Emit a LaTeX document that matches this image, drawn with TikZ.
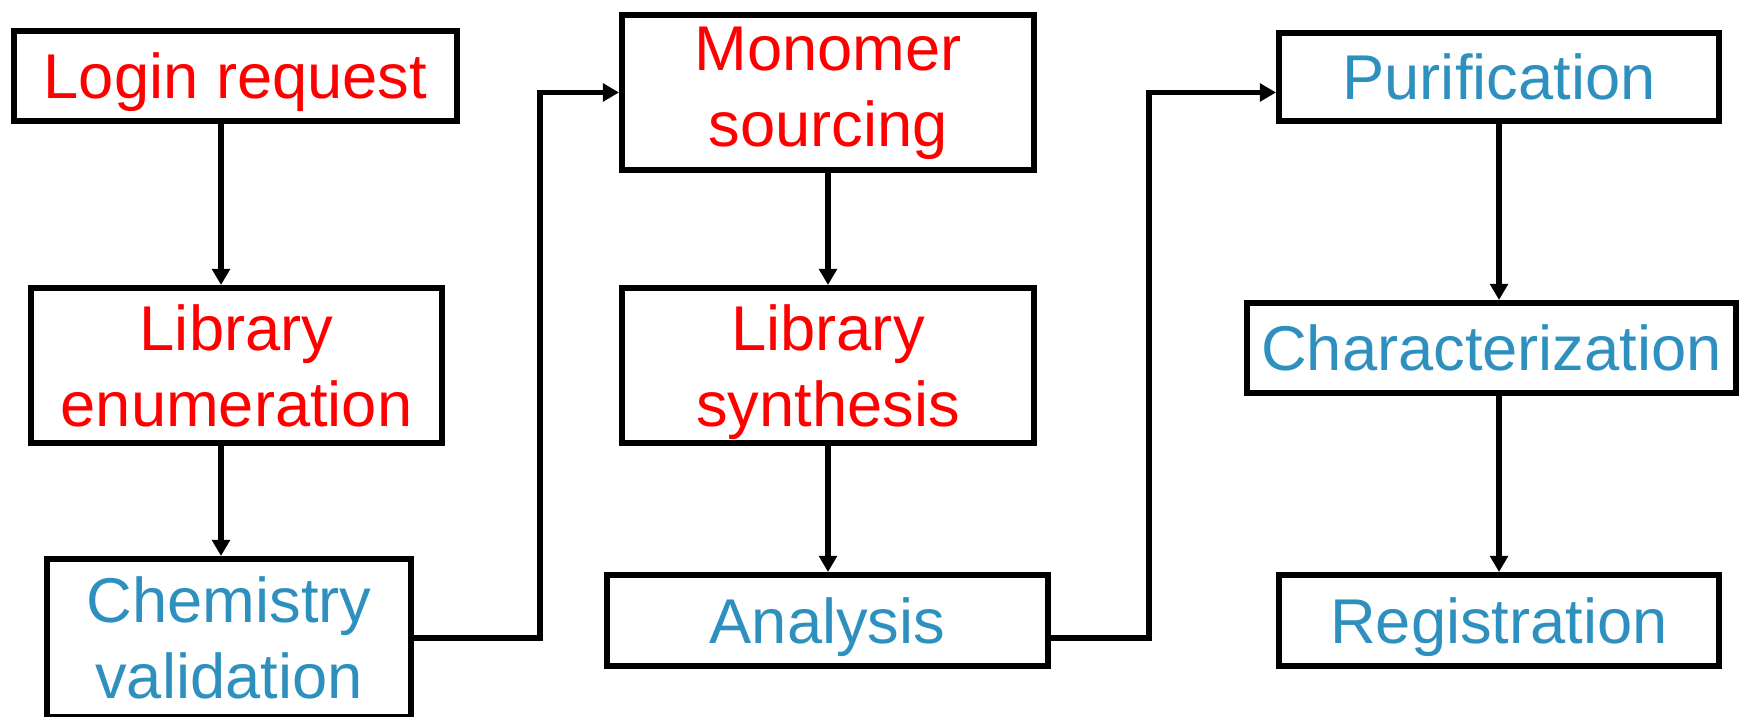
\documentclass[tikz,border=0pt]{standalone}
\usepackage{fontspec}
\setmainfont{Liberation Sans}
\usetikzlibrary{arrows, arrows.meta, positioning}
\definecolor{todored}{RGB}{255,0,0}
\definecolor{doneblue}{RGB}{46,144,191}

\begin{document}
\begin{tikzpicture}
		\tikzstyle{Box} = [rectangle, draw=black, line width=1.7pt, fill=white, align=center, inner sep=0pt, text depth=0pt, font=\fontsize{18}{21.6}\selectfont]
		\tikzstyle{Todo} = [Box, text=todored]
		\tikzstyle{Done} = [Box, text=doneblue]
		\tikzstyle{arrow} = [line width=1.5pt,-{Triangle[length=4.6pt,width=5pt]}]
		
		\useasboundingbox (0,0) rectangle (17.39,7.17);
		\coordinate (col1) at (2.21,0);
		
		% first column
		\node (login) [Todo, minimum width=4.43cm, minimum height=0.90cm] at (2.355,6.41) {Login request};
		\node (enum) [Todo, minimum width=4.11cm, minimum height=1.55cm] at (2.365,3.515) {Library\\enumeration};
		\node (chem) [Done, minimum width=3.64cm, minimum height=1.58cm] at (2.29,0.79) {Chemistry\\validation};
		% second column
		\node (mono) [Todo, text depth=3.5pt, minimum width=4.12cm, minimum height=1.55cm] at (8.28,6.245) {Monomer\\sourcing};
		\node (synth) [Todo, minimum width=4.12cm, minimum height=1.55cm] at (8.28,3.515) {Library\\synthesis};
		\node (anal) [Done, minimum width=4.41cm, minimum height=0.91cm] at (8.275,0.965) {Analysis};
		% third column
		\node (puri) [Done, minimum width=4.40cm, minimum height=0.88cm] at (14.99,6.40) {Purification};
		\node (charac) [Done, minimum width=4.89cm, minimum height=0.90cm] at (14.915,3.69) {Characterization};
		\node (regis) [Done, minimum width=4.40cm, minimum height=0.91cm] at (14.99,0.965) {Registration};
		
		\draw [arrow] (login.south -| col1) -- (enum.north -| col1);
		\draw [arrow] (enum.south -| col1) -- (chem.north -| col1);
		\draw [arrow] (mono.south) -- (synth.north);
		\draw [arrow] (synth.south) -- (anal.north -| synth.south);
		\draw [arrow] (puri.south) -- (charac.north -| puri.south);
		\draw [arrow] (charac.south -| puri.south) -- (regis.north);
		\draw [arrow] (chem.east) -- ++(1.26,0) |- (mono.west);
		\draw [arrow] (anal.east |- chem.east) -- ++(0.98,0) |- (puri.west |- mono.west);
\end{tikzpicture}
\end{document}
